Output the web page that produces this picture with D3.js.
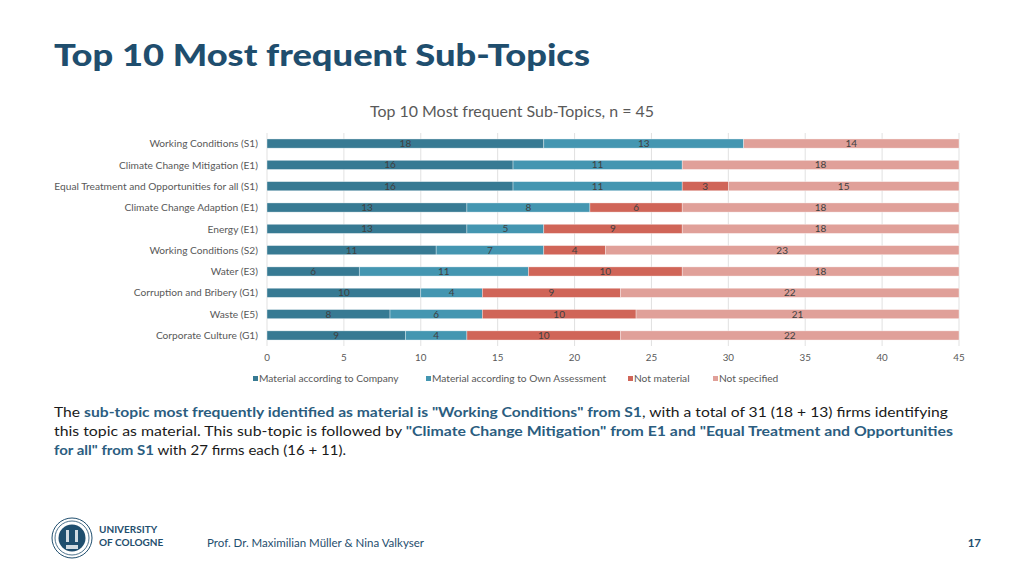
<!DOCTYPE html>
<html>
<head>
<meta charset="utf-8">
<script src="https://cdn.jsdelivr.net/npm/d3@7"></script>
<style>
  body { margin: 0; background: #fff; }
  svg { display: block; }
</style>
</head>
<body>
<div id="chart"></div>
<script>
// Daten
var categories = ['Working Conditions (S1)', 'Climate Change Mitigation (E1)',
    'Equal Treatment and Opportunities for all (S1)', 'Climate Change Adaption (E1)',
    'Energy (E1)', 'Working Conditions (S2)', 'Water (E3)',
    'Corruption and Bribery (G1)', 'Waste (E5)', 'Corporate Culture (G1)'];
var series_names   = ['Material according to Company', 'Material according to Own Assessment',
    'Not material', 'Not specified'];
var company        = [18, 16, 16, 13, 13, 11, 6, 10, 8, 9];
var own_assessment = [13, 11, 11, 8, 5, 7, 11, 4, 6, 4];
var not_material   = [0, 0, 3, 6, 9, 4, 10, 9, 10, 10];
var not_specified  = [14, 18, 15, 18, 18, 23, 18, 22, 21, 22];
var x_ticks        = [0, 5, 10, 15, 20, 25, 30, 35, 40, 45];

var colors = ['#377a93', '#4496b1', '#d06558', '#e0a099'];
var dark_blue = '#1f4e6e';
var grey_text = '#595959';
var font = 'Lato, "Noto Sans", sans-serif';

var width  = 1024;
var height = 573;

var svg = d3.select('#chart')
    .append('svg')
    .attr('width', width)
    .attr('height', height)
    .style('font-family', font);

// Folientitel
svg.append('text')
    .attr('x', 54)
    .attr('y', 66)
    .attr('font-size', 31)
    .attr('font-weight', 900)
    .attr('fill', dark_blue)
    .attr('textLength', 536)
    .attr('lengthAdjust', 'spacingAndGlyphs')
    .text('Top 10 Most frequent Sub-Topics');

// Diagrammtitel
svg.append('text')
    .attr('x', 512)
    .attr('y', 117)
    .attr('text-anchor', 'middle')
    .attr('font-size', 14.5)
    .attr('fill', grey_text)
    .attr('textLength', 284)
    .attr('lengthAdjust', 'spacingAndGlyphs')
    .text('Top 10 Most frequent Sub-Topics, n = 45');

// Skalen
var x_scale = d3.scaleLinear()
    .domain([0, 45])
    .range([267, 959]);

var y_scale = d3.scaleBand()
    .domain(categories)
    .range([133, 346])
    .paddingInner(0.57)
    .paddingOuter(0.28);

// Gitter
svg.append('g')
    .selectAll('line')
    .data(x_ticks)
    .enter()
    .append('line')
    .attr('x1', function(d) { return x_scale(d); })
    .attr('x2', function(d) { return x_scale(d); })
    .attr('y1', 133)
    .attr('y2', 346)
    .attr('stroke', '#d9d9d9')
    .attr('stroke-width', 0.8);

// Stapel
var table = categories.map(function(c, i) {
    return { cat: c, s0: company[i], s1: own_assessment[i], s2: not_material[i], s3: not_specified[i] };
});
var stacked = d3.stack().keys(['s0', 's1', 's2', 's3'])(table);

var layers = svg.selectAll('g.layer')
    .data(stacked)
    .enter()
    .append('g')
    .attr('class', 'layer')
    .attr('fill', function(d, i) { return colors[i]; });

layers.selectAll('rect')
    .data(function(d) { return d.filter(function(p) { return p[1] - p[0] > 0; }); })
    .enter()
    .append('rect')
    .attr('x', function(d) { return x_scale(d[0]); })
    .attr('y', function(d) { return y_scale(d.data.cat); })
    .attr('width', function(d) { return x_scale(d[1]) - x_scale(d[0]); })
    .attr('height', y_scale.bandwidth())
    .attr('stroke', '#fff')
    .attr('stroke-opacity', 0.6)
    .attr('stroke-width', 0.6);

// Wertbeschriftung
layers.selectAll('text')
    .data(function(d) { return d.filter(function(p) { return p[1] - p[0] > 0; }); })
    .enter()
    .append('text')
    .attr('x', function(d) { return (x_scale(d[0]) + x_scale(d[1])) / 2; })
    .attr('y', function(d) { return y_scale(d.data.cat) + y_scale.bandwidth() / 2; })
    .attr('dy', '0.36em')
    .attr('text-anchor', 'middle')
    .attr('font-size', 10)
    .attr('fill', '#404040')
    .text(function(d) { return d[1] - d[0]; });

// Kategorien
svg.append('g')
    .selectAll('text')
    .data(categories)
    .enter()
    .append('text')
    .attr('x', 258)
    .attr('y', function(d) { return y_scale(d) + y_scale.bandwidth() / 2; })
    .attr('dy', '0.36em')
    .attr('text-anchor', 'end')
    .attr('font-size', 10.2)
    .attr('fill', grey_text)
    .text(function(d) { return d; });

// x-Achse
svg.append('g')
    .selectAll('text')
    .data(x_ticks)
    .enter()
    .append('text')
    .attr('x', function(d) { return x_scale(d); })
    .attr('y', 361)
    .attr('text-anchor', 'middle')
    .attr('font-size', 9.8)
    .attr('fill', grey_text)
    .text(function(d) { return d; });

// Legende
var legend_x = [253, 426, 628, 713];
var legend = svg.append('g')
    .selectAll('g')
    .data(series_names)
    .enter()
    .append('g')
    .attr('transform', function(d, i) { return 'translate(' + legend_x[i] + ',379)'; });
legend.append('rect')
    .attr('x', 0)
    .attr('y', -3)
    .attr('width', 5)
    .attr('height', 5)
    .attr('fill', function(d, i) { return colors[i]; });
legend.append('text')
    .attr('x', 6)
    .attr('y', 0)
    .attr('dy', '0.34em')
    .attr('font-size', 10.2)
    .attr('fill', grey_text)
    .text(function(d) { return d; });

// Fliesstext
var para = [
    { y: 417, len: 894, parts: [['The ', 0], ['sub-topic most frequently identified as material is "Working Conditions" from S1', 1], [', with a total of 31 (18 + 13) firms identifying', 0]] },
    { y: 436, len: 899, parts: [['this topic as material. This sub-topic is followed by ', 0], ['"Climate Change Mitigation" from E1 and "Equal Treatment and Opportunities', 1]] },
    { y: 455, len: 292, parts: [['for all" from S1', 1], [' with 27 firms each (16 + 11).', 0]] }
];
para.forEach(function(line) {
    var t = svg.append('text')
        .attr('x', 54)
        .attr('y', line.y)
        .attr('font-size', 14)
        .attr('textLength', line.len)
        .attr('lengthAdjust', 'spacingAndGlyphs');
    line.parts.forEach(function(p) {
        t.append('tspan')
            .attr('fill', p[1] ? '#2b5d80' : '#1a1a1a')
            .attr('font-weight', p[1] ? 'bold' : 'normal')
            .text(p[0]);
    });
});

// Fusszeile: Logo
var logo = svg.append('g').attr('transform', 'translate(72,538)');
logo.append('circle').attr('r', 20).attr('fill', 'none').attr('stroke', dark_blue).attr('stroke-width', 1);
logo.append('circle').attr('r', 17).attr('fill', 'none').attr('stroke', dark_blue).attr('stroke-width', 0.8);
logo.append('circle').attr('r', 13.5).attr('fill', dark_blue);
logo.append('rect').attr('x', -6).attr('y', -8).attr('width', 3).attr('height', 12).attr('fill', '#fff').attr('opacity', 0.8);
logo.append('rect').attr('x', 3).attr('y', -8).attr('width', 3).attr('height', 12).attr('fill', '#fff').attr('opacity', 0.8);
logo.append('rect').attr('x', -6).attr('y', 7).attr('width', 12).attr('height', 4).attr('fill', '#fff').attr('opacity', 0.8);

svg.append('text')
    .attr('x', 99).attr('y', 533)
    .attr('font-size', 10).attr('font-weight', 'bold').attr('fill', dark_blue)
    .text('UNIVERSITY');
svg.append('text')
    .attr('x', 99).attr('y', 546)
    .attr('font-size', 10).attr('font-weight', 'bold').attr('fill', dark_blue)
    .text('OF COLOGNE');

svg.append('text')
    .attr('x', 207).attr('y', 547)
    .attr('font-size', 11.5).attr('fill', dark_blue)
    .text('Prof. Dr. Maximilian Müller & Nina Valkyser');

svg.append('text')
    .attr('x', 981).attr('y', 547)
    .attr('text-anchor', 'end')
    .attr('font-size', 11.5).attr('font-weight', 'bold').attr('fill', dark_blue)
    .text('17');
</script>
</body>
</html>
